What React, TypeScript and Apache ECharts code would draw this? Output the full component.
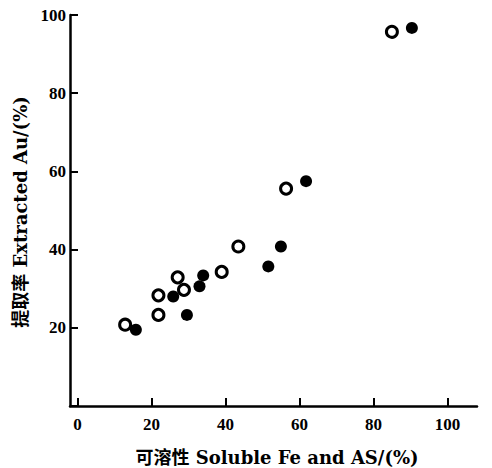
import React, { useEffect, useRef } from "react";
import * as echarts from "echarts";

const openX = [12.9, 21.9, 21.9, 27.1, 28.8, 39.0, 43.5, 56.4, 85.0];
const openY = [20.8, 28.3, 23.3, 32.9, 29.7, 34.3, 40.8, 55.6, 95.7];
const filledX = [15.8, 25.9, 29.6, 33.0, 34.0, 51.6, 55.0, 61.8, 90.4];
const filledY = [19.5, 28.0, 23.3, 30.6, 33.4, 35.7, 40.8, 57.5, 96.7];
const xTicks = [0, 20, 40, 60, 80, 100];
const xName = "可溶性 Soluble Fe and AS/(%)";
const yName = "提取率 Extracted Au/(%)";

const FONT = "'Liberation Serif', 'Noto Sans CJK SC', serif";
const NAMEFONT = "'DejaVu Serif', 'Noto Sans CJK SC', serif";

export default function App() {
  const ref = useRef<HTMLDivElement>(null);
  useEffect(() => {
    document.body.style.margin = "0";
    if (!ref.current) return;
    const chart = echarts.init(ref.current, null, { renderer: "svg" });
    const openData = openX.map((x, i) => [x, openY[i]]);
    const filledData = filledX.map((x, i) => [x, filledY[i]]);
    chart.setOption({
      animation: false,
      backgroundColor: "#fff",
      grid: { left: 70, right: 15, top: 15, bottom: 62, containLabel: false, outerBoundsMode: "none" },
      xAxis: {
        type: "value",
        min: -2,
        max: 108,
        splitLine: { show: false },
        axisLine: { show: true, onZero: false, lineStyle: { color: "#000", width: 2.5 } },
        axisTick: { show: true, inside: true, length: 8, customValues: xTicks, lineStyle: { color: "#000", width: 2 } },
        axisLabel: { customValues: xTicks, color: "#000", fontFamily: FONT, fontWeight: "bold", fontSize: 17, margin: 10 },
      },
      yAxis: {
        type: "value",
        min: 0,
        max: 100,
        interval: 20,
        splitLine: { show: false },
        axisLine: { show: true, onZero: false, lineStyle: { color: "#000", width: 2.5 } },
        axisTick: { show: true, inside: true, length: 8, lineStyle: { color: "#000", width: 2 } },
        axisLabel: {
          color: "#000",
          fontFamily: FONT,
          fontWeight: "bold",
          fontSize: 17,
          margin: 4,
          formatter: (v: number) => (v === 0 ? "" : String(v)),
        },
      },
      graphic: [
        {
          type: "text",
          x: 277,
          y: 457,
          style: {
            text: xName,
            font: `bold 18px ${NAMEFONT}`,
            fill: "#000",
            align: "center",
            verticalAlign: "middle",
          },
        },
        {
          type: "text",
          x: 20,
          y: 212,
          rotation: Math.PI / 2,
          style: {
            text: yName,
            font: `bold 18px ${NAMEFONT}`,
            fill: "#000",
            align: "center",
            verticalAlign: "middle",
          },
        },
      ],
      series: [
        {
          type: "scatter",
          data: openData,
          symbol: "circle",
          symbolSize: 11,
          itemStyle: { color: "#fff", borderColor: "#000", borderWidth: 3, opacity: 1 },
        },
        {
          type: "scatter",
          data: filledData,
          symbol: "circle",
          symbolSize: 12,
          itemStyle: { color: "#000", opacity: 1 },
        },
      ],
    });
    return () => chart.dispose();
  }, []);
  return <div ref={ref} style={{ width: 492, height: 468 }} />;
}
